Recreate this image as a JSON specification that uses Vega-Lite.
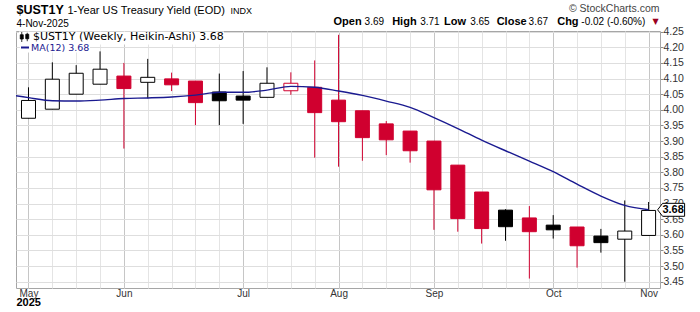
{
  "$schema": "https://vega.github.io/schema/vega-lite/v6.json",
  "width": 644,
  "height": 257,
  "autosize": {"type": "none"},
  "padding": {"left": 16, "top": 31, "right": 40, "bottom": 24},
  "background": "#ffffff",
  "config": {
    "view": {"stroke": "#a6a6a6", "strokeWidth": 1},
    "font": "Liberation Sans",
    "axis": {"titleFont": "Liberation Sans", "labelFont": "Liberation Sans", "titleLimit": 1000, "titleAnchor": "start"}
  },
  "datasets": {
    "candles": [
      {"date": "2025-05-05", "open": 3.973, "high": 4.072, "low": 3.973, "close": 4.030, "kind": "hollow-black", "series": "$UST1Y (Weekly, Heikin-Ashi) 3.68"},
      {"date": "2025-05-12", "open": 4.002, "high": 4.152, "low": 4.002, "close": 4.098, "kind": "hollow-black", "series": "$UST1Y (Weekly, Heikin-Ashi) 3.68"},
      {"date": "2025-05-19", "open": 4.050, "high": 4.143, "low": 4.050, "close": 4.117, "kind": "hollow-black", "series": "$UST1Y (Weekly, Heikin-Ashi) 3.68"},
      {"date": "2025-05-26", "open": 4.082, "high": 4.187, "low": 4.082, "close": 4.130, "kind": "hollow-black", "series": "$UST1Y (Weekly, Heikin-Ashi) 3.68"},
      {"date": "2025-06-02", "open": 4.108, "high": 4.150, "low": 3.876, "close": 4.068, "kind": "filled-red", "series": "$UST1Y (Weekly, Heikin-Ashi) 3.68"},
      {"date": "2025-06-09", "open": 4.088, "high": 4.163, "low": 4.037, "close": 4.104, "kind": "hollow-black", "series": "$UST1Y (Weekly, Heikin-Ashi) 3.68"},
      {"date": "2025-06-16", "open": 4.099, "high": 4.119, "low": 4.060, "close": 4.080, "kind": "filled-red", "series": "$UST1Y (Weekly, Heikin-Ashi) 3.68"},
      {"date": "2025-06-23", "open": 4.092, "high": 4.092, "low": 3.951, "close": 4.023, "kind": "filled-red", "series": "$UST1Y (Weekly, Heikin-Ashi) 3.68"},
      {"date": "2025-06-30", "open": 4.057, "high": 4.116, "low": 3.951, "close": 4.029, "kind": "filled-black", "series": "$UST1Y (Weekly, Heikin-Ashi) 3.68"},
      {"date": "2025-07-07", "open": 4.044, "high": 4.124, "low": 3.955, "close": 4.031, "kind": "filled-black", "series": "$UST1Y (Weekly, Heikin-Ashi) 3.68"},
      {"date": "2025-07-14", "open": 4.040, "high": 4.136, "low": 4.040, "close": 4.085, "kind": "hollow-black", "series": "$UST1Y (Weekly, Heikin-Ashi) 3.68"},
      {"date": "2025-07-21", "open": 4.061, "high": 4.120, "low": 4.048, "close": 4.085, "kind": "hollow-red", "series": "$UST1Y (Weekly, Heikin-Ashi) 3.68"},
      {"date": "2025-07-28", "open": 4.072, "high": 4.158, "low": 3.847, "close": 3.991, "kind": "filled-red", "series": "$UST1Y (Weekly, Heikin-Ashi) 3.68"},
      {"date": "2025-08-04", "open": 4.031, "high": 4.240, "low": 3.818, "close": 3.962, "kind": "filled-red", "series": "$UST1Y (Weekly, Heikin-Ashi) 3.68"},
      {"date": "2025-08-11", "open": 3.997, "high": 3.997, "low": 3.837, "close": 3.911, "kind": "filled-red", "series": "$UST1Y (Weekly, Heikin-Ashi) 3.68"},
      {"date": "2025-08-18", "open": 3.955, "high": 3.964, "low": 3.855, "close": 3.904, "kind": "filled-red", "series": "$UST1Y (Weekly, Heikin-Ashi) 3.68"},
      {"date": "2025-08-25", "open": 3.932, "high": 3.932, "low": 3.831, "close": 3.869, "kind": "filled-red", "series": "$UST1Y (Weekly, Heikin-Ashi) 3.68"},
      {"date": "2025-09-01", "open": 3.900, "high": 3.900, "low": 3.616, "close": 3.744, "kind": "filled-red", "series": "$UST1Y (Weekly, Heikin-Ashi) 3.68"},
      {"date": "2025-09-08", "open": 3.823, "high": 3.823, "low": 3.610, "close": 3.652, "kind": "filled-red", "series": "$UST1Y (Weekly, Heikin-Ashi) 3.68"},
      {"date": "2025-09-15", "open": 3.737, "high": 3.737, "low": 3.572, "close": 3.620, "kind": "filled-red", "series": "$UST1Y (Weekly, Heikin-Ashi) 3.68"},
      {"date": "2025-09-22", "open": 3.679, "high": 3.682, "low": 3.581, "close": 3.626, "kind": "filled-black", "series": "$UST1Y (Weekly, Heikin-Ashi) 3.68"},
      {"date": "2025-09-29", "open": 3.654, "high": 3.692, "low": 3.460, "close": 3.610, "kind": "filled-red", "series": "$UST1Y (Weekly, Heikin-Ashi) 3.68"},
      {"date": "2025-10-06", "open": 3.631, "high": 3.663, "low": 3.588, "close": 3.616, "kind": "filled-black", "series": "$UST1Y (Weekly, Heikin-Ashi) 3.68"},
      {"date": "2025-10-13", "open": 3.625, "high": 3.625, "low": 3.495, "close": 3.565, "kind": "filled-red", "series": "$UST1Y (Weekly, Heikin-Ashi) 3.68"},
      {"date": "2025-10-20", "open": 3.596, "high": 3.619, "low": 3.543, "close": 3.575, "kind": "filled-black", "series": "$UST1Y (Weekly, Heikin-Ashi) 3.68"},
      {"date": "2025-10-27", "open": 3.586, "high": 3.710, "low": 3.450, "close": 3.612, "kind": "hollow-black", "series": "$UST1Y (Weekly, Heikin-Ashi) 3.68"},
      {"date": "2025-11-03", "open": 3.598, "high": 3.705, "low": 3.598, "close": 3.678, "kind": "hollow-black", "series": "$UST1Y (Weekly, Heikin-Ashi) 3.68"}
    ],
    "ma": [
      {"date": "2025-04-28", "ma": 4.051, "name": "MA(12) 3.68"},
      {"date": "2025-05-05", "ma": 4.039, "name": "MA(12) 3.68"},
      {"date": "2025-05-12", "ma": 4.029, "name": "MA(12) 3.68"},
      {"date": "2025-05-19", "ma": 4.028, "name": "MA(12) 3.68"},
      {"date": "2025-05-26", "ma": 4.031, "name": "MA(12) 3.68"},
      {"date": "2025-06-02", "ma": 4.036, "name": "MA(12) 3.68"},
      {"date": "2025-06-09", "ma": 4.038, "name": "MA(12) 3.68"},
      {"date": "2025-06-16", "ma": 4.041, "name": "MA(12) 3.68"},
      {"date": "2025-06-23", "ma": 4.047, "name": "MA(12) 3.68"},
      {"date": "2025-06-30", "ma": 4.056, "name": "MA(12) 3.68"},
      {"date": "2025-07-07", "ma": 4.056, "name": "MA(12) 3.68"},
      {"date": "2025-07-14", "ma": 4.063, "name": "MA(12) 3.68"},
      {"date": "2025-07-21", "ma": 4.075, "name": "MA(12) 3.68"},
      {"date": "2025-07-28", "ma": 4.072, "name": "MA(12) 3.68"},
      {"date": "2025-08-04", "ma": 4.060, "name": "MA(12) 3.68"},
      {"date": "2025-08-11", "ma": 4.046, "name": "MA(12) 3.68"},
      {"date": "2025-08-18", "ma": 4.028, "name": "MA(12) 3.68"},
      {"date": "2025-08-25", "ma": 4.008, "name": "MA(12) 3.68"},
      {"date": "2025-09-01", "ma": 3.975, "name": "MA(12) 3.68"},
      {"date": "2025-09-08", "ma": 3.940, "name": "MA(12) 3.68"},
      {"date": "2025-09-15", "ma": 3.903, "name": "MA(12) 3.68"},
      {"date": "2025-09-22", "ma": 3.869, "name": "MA(12) 3.68"},
      {"date": "2025-09-29", "ma": 3.836, "name": "MA(12) 3.68"},
      {"date": "2025-10-06", "ma": 3.802, "name": "MA(12) 3.68"},
      {"date": "2025-10-13", "ma": 3.762, "name": "MA(12) 3.68"},
      {"date": "2025-10-20", "ma": 3.724, "name": "MA(12) 3.68"},
      {"date": "2025-10-27", "ma": 3.694, "name": "MA(12) 3.68"},
      {"date": "2025-11-03", "ma": 3.680, "name": "MA(12) 3.68"}
    ],
    "tag": [
      {"date": "2025-11-03", "value": 3.68, "label": "3.68"}
    ]
  },
  "resolve": {"axis": {"x": "independent", "y": "independent"}},
  "layer": [
    {
      "data": {"name": "candles"},
      "mark": {"type": "rule", "strokeWidth": 1},
      "encoding": {
        "x": {
          "field": "date", "type": "temporal",
          "scale": {"type": "utc", "padding": 0, "domain": [{"year": 2025, "month": 5, "date": 1, "hours": 8, "utc": true}, {"year": 2025, "month": 11, "date": 6, "hours": 8, "minutes": 15, "utc": true}]},
          "axis": {
            "orient": "top",
            "values": [
              {"year": 2025, "month": 5, "date": 5, "utc": true}, {"year": 2025, "month": 5, "date": 12, "utc": true}, {"year": 2025, "month": 5, "date": 19, "utc": true}, {"year": 2025, "month": 5, "date": 26, "utc": true},
              {"year": 2025, "month": 6, "date": 2, "utc": true}, {"year": 2025, "month": 6, "date": 9, "utc": true}, {"year": 2025, "month": 6, "date": 16, "utc": true}, {"year": 2025, "month": 6, "date": 23, "utc": true}, {"year": 2025, "month": 6, "date": 30, "utc": true},
              {"year": 2025, "month": 7, "date": 7, "utc": true}, {"year": 2025, "month": 7, "date": 14, "utc": true}, {"year": 2025, "month": 7, "date": 21, "utc": true}, {"year": 2025, "month": 7, "date": 28, "utc": true},
              {"year": 2025, "month": 8, "date": 4, "utc": true}, {"year": 2025, "month": 8, "date": 11, "utc": true}, {"year": 2025, "month": 8, "date": 18, "utc": true}, {"year": 2025, "month": 8, "date": 25, "utc": true},
              {"year": 2025, "month": 9, "date": 1, "utc": true}, {"year": 2025, "month": 9, "date": 8, "utc": true}, {"year": 2025, "month": 9, "date": 15, "utc": true}, {"year": 2025, "month": 9, "date": 22, "utc": true}, {"year": 2025, "month": 9, "date": 29, "utc": true},
              {"year": 2025, "month": 10, "date": 6, "utc": true}, {"year": 2025, "month": 10, "date": 13, "utc": true}, {"year": 2025, "month": 10, "date": 20, "utc": true}, {"year": 2025, "month": 10, "date": 27, "utc": true},
              {"year": 2025, "month": 11, "date": 3, "utc": true}
            ],
            "grid": true, "gridColor": "#e4e4e4", "gridWidth": 1,
            "labels": false, "ticks": false, "domain": false,
            "title": "1-Year US Treasury Yield (EOD)",
            "titleX": 51, "titleY": -18, "titleAlign": "left", "titleBaseline": "alphabetic", "titleAngle": 0,
            "titleFontSize": 11, "titleFontWeight": "normal", "titleColor": "#000000"
          }
        },
        "y": {
          "field": "low", "type": "quantitative",
          "scale": {"domain": [3.4298, 4.2522], "nice": false, "zero": false},
          "axis": {
            "orient": "right",
            "values": [3.45, 3.5, 3.55, 3.6, 3.65, 3.7, 3.75, 3.8, 3.85, 3.9, 3.95, 4.0, 4.05, 4.1, 4.15, 4.2, 4.25],
            "format": ".2f",
            "grid": true, "gridColor": "#dedede", "gridWidth": 1,
            "domain": false, "ticks": true, "tickSize": 3, "tickColor": "#8c8c8c",
            "labelFontSize": 10.5, "labelColor": "#333333", "labelPadding": 0, "labelOverlap": false,
            "title": "INDX",
            "titleX": -430, "titleY": -18, "titleAngle": 0, "titleAlign": "left", "titleBaseline": "alphabetic",
            "titleFontSize": 9, "titleFontWeight": "normal", "titleColor": "#000000"
          }
        },
        "y2": {"field": "high"},
        "stroke": {
          "field": "kind", "type": "nominal",
          "scale": {"domain": ["hollow-black", "filled-black", "hollow-red", "filled-red"], "range": ["#000000", "#000000", "#d0002f", "#d0002f"]},
          "legend": null
        }
      }
    },
    {
      "data": {"name": "candles"},
      "mark": {"type": "bar", "width": 14, "strokeWidth": 1},
      "encoding": {
        "x": {
          "field": "date", "type": "temporal",
          "scale": {"type": "utc", "padding": 0, "domain": [{"year": 2025, "month": 5, "date": 1, "hours": 8, "utc": true}, {"year": 2025, "month": 11, "date": 6, "hours": 8, "minutes": 15, "utc": true}]},
          "axis": {
            "orient": "bottom",
            "values": [
              {"year": 2025, "month": 5, "date": 5, "utc": true}, {"year": 2025, "month": 6, "date": 2, "utc": true}, {"year": 2025, "month": 7, "date": 7, "utc": true},
              {"year": 2025, "month": 8, "date": 4, "utc": true}, {"year": 2025, "month": 9, "date": 1, "utc": true}, {"year": 2025, "month": 10, "date": 6, "utc": true},
              {"year": 2025, "month": 11, "date": 3, "utc": true}
            ],
            "labelExpr": "utcFormat(datum.value, '%b')",
            "grid": true, "gridColor": "#c6c6c6", "gridWidth": 1,
            "labelFlush": false, "labelOverlap": false, "labelFontSize": 10, "labelColor": "#333333", "labelPadding": 0.5,
            "ticks": false, "domain": false,
            "title": "2025",
            "titleX": 0, "titleY": 17.5, "titleAlign": "left", "titleBaseline": "alphabetic", "titleAngle": 0,
            "titleFontSize": 11, "titleFontWeight": "bold", "titleColor": "#000000"
          }
        },
        "y": {
          "field": "open", "type": "quantitative",
          "scale": {"domain": [3.4298, 4.2522], "nice": false, "zero": false},
          "axis": {
            "orient": "left", "grid": false, "labels": false, "ticks": false, "domain": false,
            "title": "© StockCharts.com",
            "titleX": 643, "titleY": -19.5, "titleAngle": 0, "titleAlign": "right", "titleBaseline": "alphabetic",
            "titleFontSize": 10.5, "titleFontWeight": "normal", "titleColor": "#444444"
          }
        },
        "y2": {"field": "close"},
        "fill": {
          "field": "kind", "type": "nominal",
          "scale": {"domain": ["hollow-black", "filled-black", "hollow-red", "filled-red"], "range": ["#ffffff", "#000000", "#ffffff", "#d0002f"]},
          "legend": null
        },
        "stroke": {"field": "kind", "type": "nominal", "legend": null},
        "opacity": {
          "field": "series", "type": "nominal",
          "scale": {"range": [1]},
          "legend": {
            "orient": "none", "legendX": 3, "legendY": 0.5, "title": null, "padding": 0,
            "symbolType": "M-0.55,-1V1M-0.85,-0.45H-0.25V0.4H-0.85ZM0.55,-0.85V0.85M0.25,-0.55H0.85V0.35H0.25Z",
            "symbolSize": 100, "symbolFillColor": "#000000", "symbolStrokeColor": "#000000", "symbolStrokeWidth": 0.8,
            "labelFont": "DejaVu Sans", "labelFontSize": 11, "labelColor": "#000000", "labelOffset": 3, "labelLimit": 400,
            "fillColor": "#ffffff"
          }
        }
      }
    },
    {
      "data": {"name": "ma"},
      "mark": {"type": "line", "clip": true, "strokeWidth": 1.4, "interpolate": "monotone"},
      "encoding": {
        "x": {
          "field": "date", "type": "temporal",
          "scale": {"type": "utc", "padding": 0, "domain": [{"year": 2025, "month": 5, "date": 1, "hours": 8, "utc": true}, {"year": 2025, "month": 11, "date": 6, "hours": 8, "minutes": 15, "utc": true}]},
          "axis": {
            "orient": "top", "grid": false, "labels": false, "ticks": false, "domain": false,
            "title": "Open\u00a0\u00a0\u00a0\u00a0\u00a0\u00a0\u00a0\u00a0\u00a0\u00a0High\u00a0\u00a0\u00a0\u00a0\u00a0\u00a0\u00a0\u00a0\u00a0Low\u00a0\u00a0\u00a0\u00a0\u00a0\u00a0\u00a0\u00a0\u00a0\u00a0Close\u00a0\u00a0\u00a0\u00a0\u00a0\u00a0\u00a0\u00a0\u00a0\u00a0Chg",
            "titleX": 317, "titleY": -7, "titleAlign": "left", "titleBaseline": "alphabetic", "titleAngle": 0,
            "titleFontSize": 11, "titleFontWeight": "bold", "titleColor": "#000000"
          }
        },
        "y": {
          "field": "ma", "type": "quantitative",
          "scale": {"domain": [3.4298, 4.2522], "nice": false, "zero": false},
          "axis": {
            "orient": "left", "grid": false, "labels": false, "ticks": false, "domain": false,
            "title": "3.69\u00a0\u00a0\u00a0\u00a0\u00a0\u00a0\u00a0\u00a0\u00a0\u00a0\u00a0\u00a0\u00a03.71\u00a0\u00a0\u00a0\u00a0\u00a0\u00a0\u00a0\u00a0\u00a0\u00a0\u00a03.65\u00a0\u00a0\u00a0\u00a0\u00a0\u00a0\u00a0\u00a0\u00a0\u00a0\u00a0\u00a0\u00a0\u00a03.67\u00a0\u00a0\u00a0\u00a0\u00a0\u00a0\u00a0\u00a0\u00a0\u00a0\u00a0\u00a0-0.02 (-0.60%)",
            "titleX": 348.1, "titleY": -7, "titleAngle": 0, "titleAlign": "left", "titleBaseline": "alphabetic",
            "titleFontSize": 10, "titleFontWeight": "normal", "titleColor": "#000000"
          }
        },
        "color": {
          "field": "name", "type": "nominal",
          "scale": {"range": ["#1a1a90"]},
          "legend": {
            "orient": "none", "legendX": 4, "legendY": 11.5, "title": null, "padding": 0,
            "symbolType": "stroke", "symbolSize": 64, "symbolStrokeWidth": 2,
            "labelFont": "DejaVu Sans", "labelFontSize": 9.5, "labelColor": "#1a1a90", "labelOffset": 1,
            "fillColor": "#ffffff"
          }
        }
      }
    },
    {
      "data": {"name": "tag"},
      "mark": {"type": "point", "shape": "M-1,0L-0.63,-0.48H1V0.48H-0.63Z", "size": 729, "filled": true, "fill": "#ffffff", "stroke": "#000000", "strokeWidth": 1, "opacity": 1, "xOffset": 22.5},
      "encoding": {
        "x": {
          "field": "date", "type": "temporal",
          "scale": {"type": "utc", "padding": 0, "domain": [{"year": 2025, "month": 5, "date": 1, "hours": 8, "utc": true}, {"year": 2025, "month": 11, "date": 6, "hours": 8, "minutes": 15, "utc": true}]},
          "axis": {
            "orient": "top", "grid": false, "labels": false, "ticks": false, "domain": false,
            "title": "▼",
            "titleX": 636, "titleY": -7.5, "titleAlign": "left", "titleBaseline": "alphabetic", "titleAngle": 0,
            "titleFont": "DejaVu Sans", "titleFontSize": 8, "titleFontWeight": "normal", "titleColor": "#9b0020"
          }
        },
        "y": {
          "field": "value", "type": "quantitative",
          "scale": {"domain": [3.4298, 4.2522], "nice": false, "zero": false},
          "axis": {
            "orient": "left", "grid": false, "labels": false, "ticks": false, "domain": false,
            "title": "$UST1Y",
            "titleX": 0, "titleY": -17.5, "titleAngle": 0, "titleAlign": "left", "titleBaseline": "alphabetic",
            "titleFontSize": 12.5, "titleFontWeight": "bold", "titleColor": "#000000"
          }
        }
      }
    },
    {
      "data": {"name": "tag"},
      "mark": {"type": "text", "font": "Liberation Sans", "fontSize": 11, "fontWeight": "bold", "color": "#000000", "xOffset": 24.5, "align": "center", "baseline": "middle"},
      "encoding": {
        "x": {
          "field": "date", "type": "temporal",
          "scale": {"type": "utc", "padding": 0, "domain": [{"year": 2025, "month": 5, "date": 1, "hours": 8, "utc": true}, {"year": 2025, "month": 11, "date": 6, "hours": 8, "minutes": 15, "utc": true}]},
          "axis": {
            "orient": "top", "grid": false, "labels": false, "ticks": false, "domain": false,
            "title": "4-Nov-2025",
            "titleX": 0, "titleY": -4.5, "titleAlign": "left", "titleBaseline": "alphabetic", "titleAngle": 0,
            "titleFontSize": 10, "titleFontWeight": "normal", "titleColor": "#000000"
          }
        },
        "y": {
          "field": "value", "type": "quantitative",
          "scale": {"domain": [3.4298, 4.2522], "nice": false, "zero": false},
          "axis": null
        },
        "text": {"field": "label"}
      }
    }
  ]
}
